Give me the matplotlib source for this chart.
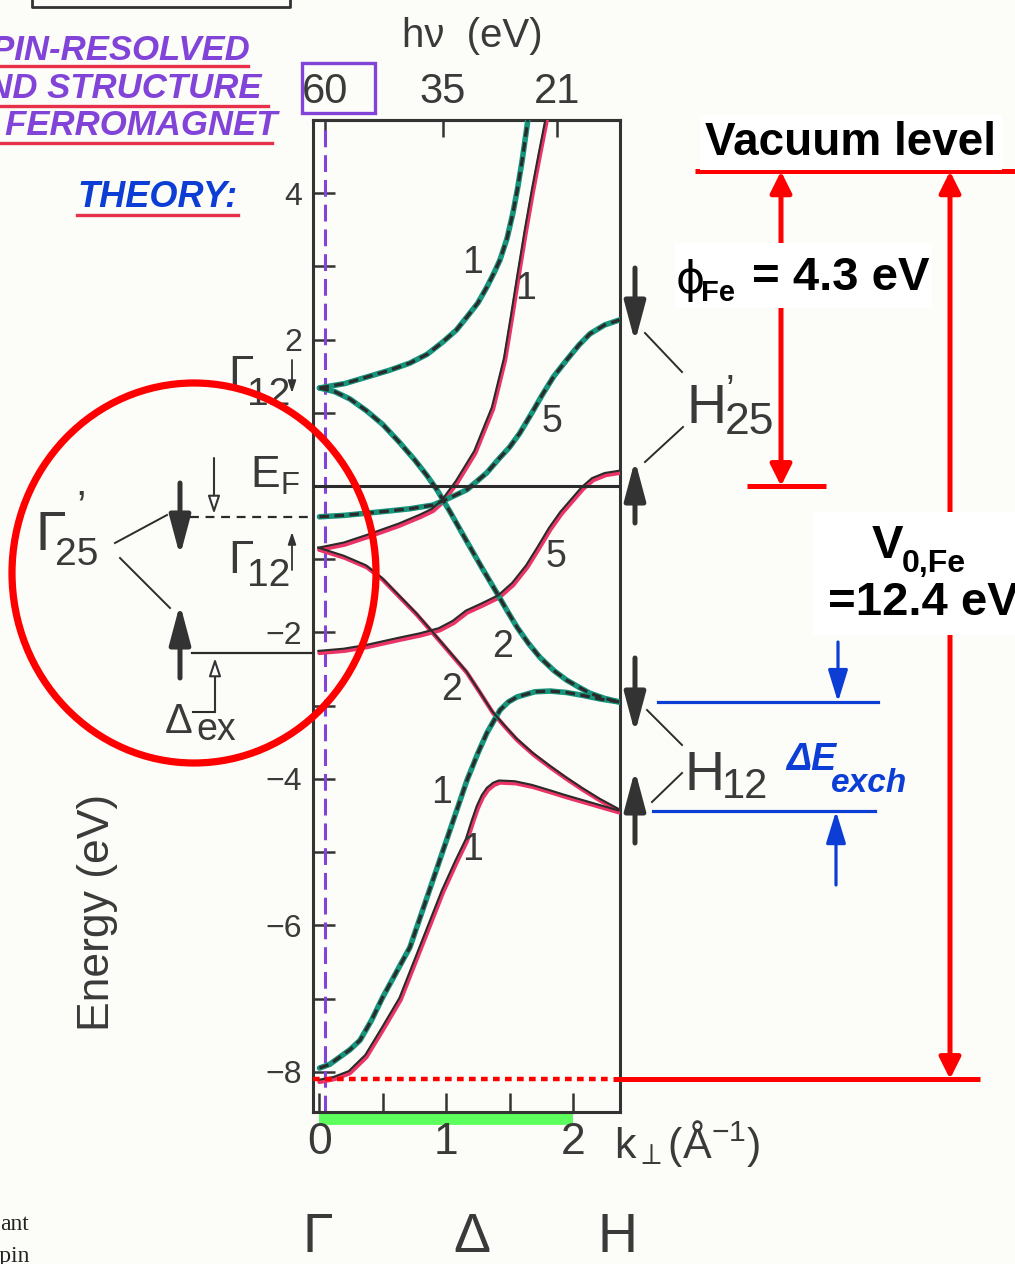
import matplotlib
matplotlib.use("Agg")
import matplotlib.pyplot as plt
from matplotlib import transforms as mtransforms
from matplotlib.patches import Ellipse, Rectangle

plt.rcParams["font.family"] = ["Liberation Sans", "DejaVu Sans"]
plt.rcParams["mathtext.fontset"] = "custom"
plt.rcParams["mathtext.rm"] = "Liberation Sans"
plt.rcParams["mathtext.it"] = "Liberation Sans:italic"
plt.rcParams["mathtext.bf"] = "Liberation Sans:bold"

# ---------------- bcc Fe bands along Γ–Δ–H (k in 1/Å, E - E_F in eV) ----------------
# minority spin (↓)
dn_1a_k = [0, 0.20, 0.375, 0.55, 0.714, 0.85, 0.975, 1.08, 1.164, 1.25, 1.322, 1.38,
           1.425, 1.48, 1.527, 1.565, 1.60, 1.645]
dn_1a_E = [1.34, 1.40, 1.49, 1.58, 1.68, 1.80, 1.97, 2.13, 2.31, 2.50, 2.72, 2.92,
           3.09, 3.38, 3.73, 4.08, 4.45, 5.0]
dn_2_k = [0, 0.12, 0.24, 0.37, 0.50, 0.635, 0.75, 0.85, 0.927, 1.03, 1.164, 1.28, 1.40,
          1.48, 1.56, 1.65, 1.74, 1.85, 1.95, 2.05, 2.135, 2.25, 2.37]
dn_2_E = [1.34, 1.29, 1.19, 1.03, 0.84, 0.59, 0.36, 0.14, -0.05, -0.35, -0.76, -1.11, -1.46,
          -1.70, -1.93, -2.15, -2.34, -2.52, -2.65, -2.75, -2.83, -2.90, -2.95]
dn_5_k = [0, 0.2, 0.375, 0.55, 0.714, 0.896, 1.03, 1.164, 1.32, 1.42, 1.50, 1.58, 1.67,
          1.76, 1.85, 1.95, 2.05, 2.135, 2.25, 2.37]
dn_5_E = [-0.42, -0.40, -0.37, -0.34, -0.31, -0.26, -0.16, -0.05, 0.18, 0.38, 0.53, 0.72, 0.98,
          1.25, 1.50, 1.72, 1.93, 2.08, 2.20, 2.27]
dn_1b_k = [0, 0.08, 0.16, 0.24, 0.32, 0.41, 0.50, 0.714, 0.896, 1.03, 1.164, 1.25, 1.322, 1.425,
           1.49, 1.56, 1.70, 1.82, 1.95, 2.08, 2.22, 2.37]
dn_1b_E = [-7.95, -7.90, -7.80, -7.70, -7.57, -7.30, -6.98, -6.30, -5.38, -4.70, -4.02, -3.65,
           -3.37, -3.06, -2.95, -2.88, -2.81, -2.80, -2.82, -2.86, -2.91, -2.95]

# majority spin (↑)
up_1a_k = [0, 0.2, 0.375, 0.635, 0.80, 0.896, 0.975, 1.085, 1.23, 1.37, 1.465, 1.52, 1.575,
           1.63, 1.685, 1.74, 1.80]
up_1a_E = [-0.87, -0.80, -0.70, -0.54, -0.42, -0.34, -0.22, 0.04, 0.45, 1.05, 1.72, 2.30, 2.90,
           3.48, 4.02, 4.52, 5.05]
up_2_k = [0, 0.2, 0.375, 0.50, 0.635, 0.77, 0.896, 1.03, 1.164, 1.27, 1.37, 1.47, 1.56, 1.69,
          1.82, 1.95, 2.08, 2.22, 2.37]
up_2_E = [-0.87, -0.98, -1.11, -1.28, -1.52, -1.76, -2.01, -2.28, -2.55, -2.83, -3.10, -3.30,
          -3.47, -3.67, -3.84, -4.00, -4.15, -4.30, -4.44]
up_5_k = [0, 0.2, 0.375, 0.635, 0.80, 0.95, 1.06, 1.164, 1.29, 1.42, 1.53, 1.64, 1.73, 1.82,
          1.91, 2.0, 2.08, 2.16, 2.26, 2.37]
up_5_E = [-2.28, -2.25, -2.20, -2.10, -2.04, -1.97, -1.87, -1.73, -1.63, -1.52, -1.35, -1.11,
          -0.86, -0.60, -0.38, -0.20, -0.04, 0.08, 0.15, 0.18]
up_1b_k = [0, 0.12, 0.24, 0.37, 0.50, 0.64, 0.77, 0.975, 1.08, 1.164, 1.21, 1.25, 1.29, 1.33,
           1.38, 1.425, 1.55, 1.685, 1.82, 1.95, 2.15, 2.37]
up_1b_E = [-8.14, -8.10, -8.02, -7.80, -7.43, -7.02, -6.45, -5.55, -5.15, -4.85, -4.60, -4.40,
           -4.25, -4.15, -4.08, -4.05, -4.06, -4.11, -4.18, -4.25, -4.35, -4.46]

# axes ticks
k_ticks = [0, 1, 2]
k_tick_labels = ["0", "1", "2"]
k_minor_ticks = [0.5, 1.5]
energy_ticks = list(range(-8, 5))
energy_tick_labels = ["\u22128", "", "\u22126", "", "\u22124", "", "\u22122", "", "", "", "2", "", "4"]
hv_k = [0.043, 0.975, 1.874]
hv_labels = ["60", "35", "21"]

# characteristic energies
PHI_FE = 4.3     # work function
V0_FE = 12.4     # inner potential, vacuum level to band bottom

# colours
TEAL = "#17947c"
PINK = "#ea3466"
DARK = "#2b2b2b"
GRAY = "#3a3a3a"
PURPLE = "#8244d8"
PEN_RED = "#e8304a"
RED = "#ff0000"
BLUE = "#0c3ed6"

fig = plt.figure(figsize=(10.15, 12.64), dpi=100, facecolor="#fcfcf8")
ax = fig.add_axes([313 / 1015, 152 / 1264, 307 / 1015, 992 / 1264])
ax.set_facecolor("none")
ax.set_xlim(-0.051, 2.372)
ax.set_ylim(-8.55, 5.0)
for s in ax.spines.values():
    s.set_linewidth(2.2)
    s.set_color("#333333")

ov = fig.add_axes([0, 0, 1, 1], zorder=5)
ov.set_xlim(0, 1015)
ov.set_ylim(1264, 0)
ov.axis("off")
bl = mtransforms.blended_transform_factory(ov.transData, ax.transData)

# ---------------- bands ----------------
up_shift = mtransforms.offset_copy(ax.transData, fig=fig, x=-0.8, y=1.5, units="points")


def minority(k, E):
    ax.plot(k, E, color=TEAL, lw=4.0, solid_capstyle="round", solid_joinstyle="round", zorder=3)
    ax.plot(k, E, color=DARK, lw=2.3, linestyle=(0, (3.0, 1.7)), zorder=4)


def majority(k, E):
    ax.plot(k, E, color=PINK, lw=3.1, solid_capstyle="round", solid_joinstyle="round", zorder=3)
    ax.plot(k, E, color=DARK, lw=1.5, transform=up_shift, solid_joinstyle="round", zorder=4)


majority(up_1a_k, up_1a_E)
majority(up_2_k, up_2_E)
majority(up_5_k, up_5_E)
majority(up_1b_k, up_1b_E)
minority(dn_1a_k, dn_1a_E)
minority(dn_2_k, dn_2_E)
minority(dn_5_k, dn_5_E)
minority(dn_1b_k, dn_1b_E)

# Fermi level and 60 eV photon line
ax.axhline(0, color=DARK, lw=2.2, zorder=5)
ax.axvline(hv_k[0], color=PURPLE, lw=2.2, linestyle=(0, (5.5, 2.6)), zorder=2)

# ticks
ax.set_yticks(energy_ticks)
ax.set_yticklabels(energy_tick_labels)
ax.set_xticks(k_ticks)
ax.set_xticklabels(k_tick_labels)
ax.set_xticks(k_minor_ticks, minor=True)
ax.tick_params(axis="y", direction="in", length=16, width=1.8, labelsize=23, pad=8,
               colors="#333333", labelcolor=GRAY)
ax.tick_params(axis="x", which="both", direction="in", length=14, width=1.8, labelsize=32,
               pad=7, colors="#333333", labelcolor=GRAY)
sec = ax.secondary_xaxis("top")
sec.set_xticks(hv_k)
sec.set_xticklabels(hv_labels)
sec.tick_params(direction="in", length=12, width=1.8, labelsize=30, pad=6,
                colors="#333333", labelcolor=GRAY)
sec.spines["top"].set_linewidth(2.2)
sec.spines["top"].set_color("#333333")

# k-range bar under the axis
ax.plot([k_ticks[0], k_ticks[-1]], [-0.007, -0.007], transform=ax.get_xaxis_transform(),
        color="#5cff5c", lw=8.5, solid_capstyle="butt", clip_on=False, zorder=1)

# band index labels
for txt, x, y in [("1", 473, 263), ("1", 526, 289), ("5", 552, 422), ("5", 556, 557),
                  ("2", 503, 647), ("2", 452, 690), ("1", 442, 793), ("1", 473, 850)]:
    ov.text(x, y, txt, ha="center", va="center", fontsize=27, color=GRAY)

# axis titles
ov.text(472, 47, "h\u03bd  (eV)", ha="center", va="baseline", fontsize=29, color=GRAY)
ov.add_patch(Rectangle((302, 63), 73, 50, fill=False, ec=PURPLE, lw=2.4))
ov.text(614, 1158, r"k$_{\perp}$(Å$^{\mathrm{-1}}$)", ha="left", va="baseline",
        fontsize=31, color=GRAY)
ov.text(98, 912, "Energy (eV)", rotation=90, ha="center", va="center", fontsize=32, color=GRAY)
ov.text(300, 488, r"E$_{\mathrm{F}}$", ha="right", va="baseline", fontsize=32, color=GRAY)
for txt, x in [("\u0393", 318), ("\u0394", 472), ("H", 618)]:
    ov.text(x, 1252, txt, ha="center", va="baseline", fontsize=40, color=GRAY)

# ---------------- Γ-point annotations ----------------
ov.plot([190, 313], [dn_5_E[0]] * 2, transform=bl, color=DARK, lw=1.6,
        linestyle=(0, (4, 3)), clip_on=False)
ov.plot([192, 313], [up_5_E[0]] * 2, transform=bl, color=DARK, lw=1.6, clip_on=False)
ov.text(36, 550, "\u0393", fontsize=40, color=GRAY, ha="left", va="baseline")
ov.text(76, 520, "\u2019", fontsize=30, color=GRAY, ha="left", va="baseline")
ov.text(55, 565, "25", fontsize=28, color=GRAY, ha="left", va="baseline")
ov.plot([115, 167], [543, 515], color=DARK, lw=1.4)
ov.plot([120, 170], [558, 608], color=DARK, lw=1.4)
big = dict(arrowstyle="-|>,head_length=1.2,head_width=0.32", lw=3.6, color="#333333",
           mutation_scale=20, shrinkA=0, shrinkB=0)
ov.annotate("", xy=(180, 556), xytext=(180, 483), arrowprops=big)
ov.annotate("", xy=(180, 604), xytext=(180, 678), arrowprops=big)
thin = dict(arrowstyle="-|>,head_length=0.9,head_width=0.3", lw=1.5, ec="#333333",
            fc="white", mutation_scale=12, shrinkA=0, shrinkB=0)
ov.annotate("", xy=(214, 514), xytext=(214, 458), arrowprops=thin)
ov.annotate("", xy=(215, 658), xytext=(215, 712), arrowprops=thin)
ov.plot([193, 215], [712, 712], color=DARK, lw=1.5)
ov.text(165, 733, "\u0394", fontsize=30, color=GRAY, ha="left", va="baseline")
ov.text(196, 740, "ex", fontsize=27, color=GRAY, ha="left", va="baseline")
# Γ12 labels
ov.text(228, 388, "\u0393", fontsize=33, color=GRAY, ha="left", va="baseline")
ov.text(247, 405, "12", fontsize=28, color=GRAY, ha="left", va="baseline")
ov.annotate("", xy=(292, 393), xytext=(292, 360),
            arrowprops=dict(arrowstyle="-|>,head_length=0.6,head_width=0.2", lw=1.3,
                            color="#333333", mutation_scale=12, shrinkA=0, shrinkB=0))
ov.text(228, 573, "\u0393", fontsize=33, color=GRAY, ha="left", va="baseline")
ov.text(247, 586, "12", fontsize=28, color=GRAY, ha="left", va="baseline")
ov.annotate("", xy=(292, 532), xytext=(292, 570),
            arrowprops=dict(arrowstyle="-|>,head_length=0.6,head_width=0.2", lw=1.3,
                            color="#333333", mutation_scale=12, shrinkA=0, shrinkB=0))
ov.add_patch(Ellipse((194, 573), 364, 380, fill=False, ec=RED, lw=5.2, zorder=10))

# ---------------- H-point annotations ----------------
ov.annotate("", xy=(635, 342), xytext=(635, 268), arrowprops=big)
ov.annotate("", xy=(635, 460), xytext=(635, 523), arrowprops=big)
ov.plot([645, 682], [333, 372], color=DARK, lw=1.4)
ov.plot([645, 683], [462, 427], color=DARK, lw=1.4)
ov.text(687, 423, "H", fontsize=40, color=GRAY, ha="left", va="baseline")
ov.text(726, 402, "\u2019", fontsize=28, color=GRAY, ha="left", va="baseline")
ov.text(725, 434, "25", fontsize=32, color=GRAY, ha="left", va="baseline")
ov.annotate("", xy=(635, 733), xytext=(635, 658), arrowprops=big)
ov.annotate("", xy=(635, 770), xytext=(635, 843), arrowprops=big)
ov.plot([647, 682], [710, 745], color=DARK, lw=1.4)
ov.plot([652, 682], [802, 773], color=DARK, lw=1.4)
ov.text(685, 790, "H", fontsize=40, color=GRAY, ha="left", va="baseline")
ov.text(722, 798, "12", fontsize=30, color=GRAY, ha="left", va="baseline")

# exchange splitting at H12
H12_dn = dn_2_E[-1]
H12_up = up_2_E[-1]
ov.plot([658, 878], [H12_dn] * 2, transform=bl, color=BLUE, lw=2.3, clip_on=False)
ov.plot([653, 875], [H12_up] * 2, transform=bl, color=BLUE, lw=2.3, clip_on=False)
blue_arrow = dict(arrowstyle="-|>,head_length=1.3,head_width=0.4", lw=2.3, color=BLUE,
                  mutation_scale=15, shrinkA=0, shrinkB=0)
ov.annotate("", xy=(838, H12_dn), xycoords=bl, xytext=(838, 642), textcoords="data",
            arrowprops=blue_arrow)
ov.annotate("", xy=(836, H12_up), xycoords=bl, xytext=(836, 885), textcoords="data",
            arrowprops=blue_arrow)
ov.text(786, 770, "\u0394E", fontsize=27, color=BLUE, fontweight="bold", fontstyle="italic",
        ha="left", va="baseline")
ov.text(831, 792, "exch", fontsize=24, color=BLUE, fontweight="bold", fontstyle="italic",
        ha="left", va="baseline")

# ---------------- vacuum level, work function, inner potential ----------------
E_vac = PHI_FE
E_bottom = PHI_FE - V0_FE
ov.plot([695, 1015], [E_vac] * 2, transform=bl, color=RED, lw=3.6, solid_capstyle="butt",
        clip_on=False)
vac_tr = mtransforms.offset_copy(bl, fig=fig, x=0, y=12, units="points")
ov.text(851, E_vac, "Vacuum level", transform=vac_tr, ha="center", va="baseline", fontsize=33,
        fontweight="bold", color="black",
        bbox=dict(boxstyle="square,pad=0.12", fc="white", ec="none"))
red_arrow = dict(arrowstyle="<|-|>,head_length=0.86,head_width=0.43", lw=3.6, color=RED,
                 mutation_scale=15, shrinkA=0, shrinkB=0)
ov.annotate("", xy=(781, E_vac), xycoords=bl, xytext=(781, 0.0), textcoords=bl,
            arrowprops=red_arrow)
ov.plot([747, 826], [0.0, 0.0], transform=bl, color=RED, lw=3.6, solid_capstyle="butt",
        clip_on=False)
ov.annotate("", xy=(950, E_vac), xycoords=bl, xytext=(950, E_bottom), textcoords=bl,
            arrowprops=red_arrow)
ov.plot([613, 980], [E_bottom] * 2, transform=bl, color=RED, lw=3.6, solid_capstyle="butt",
        clip_on=False)
ov.plot([313, 613], [E_bottom] * 2, transform=bl, color=RED, lw=3.2,
        linestyle=(0, (1.5, 1.2)), clip_on=False)

ov.add_patch(Rectangle((675, 243), 257, 65, fc="white", ec="none", zorder=6))
ov.text(676, 293, "\u03d5", family=["DejaVu Sans"], fontsize=32,
        color="black", ha="left", va="baseline", zorder=7)
ov.text(701, 301, "Fe", fontsize=21, fontweight="bold", color="black", ha="left",
        va="baseline", zorder=7)
ov.text(752, 290, f"= {PHI_FE} eV", fontsize=34, fontweight="bold", color="black",
        ha="left", va="baseline", zorder=7)

ov.add_patch(Rectangle((813, 512), 202, 123, fc="white", ec="none", zorder=6))
ov.text(872, 558, "V", fontsize=34, fontweight="bold", color="black", ha="left",
        va="baseline", zorder=7)
ov.text(902, 572, "0,Fe", fontsize=23, fontweight="bold", color="black", ha="left",
        va="baseline", zorder=7)
ov.text(828, 615, f"={V0_FE} eV", fontsize=34, fontweight="bold", color="black",
        ha="left", va="baseline", zorder=7)

# ---------------- handwritten headings ----------------
head = dict(fontsize=25, fontweight="bold", fontstyle="italic", color=PURPLE,
            ha="right", va="baseline")
ov.text(250, 60, "SPIN-RESOLVED", **head)
ov.text(262, 98, "BAND STRUCTURE", **head)
ov.text(277, 135, "OF A FERROMAGNET", **head)
ov.plot([0, 248], [66, 66], color=PEN_RED, lw=2.4)
ov.plot([0, 268], [106, 106], color=PEN_RED, lw=2.4)
ov.plot([0, 272], [143, 143], color=PEN_RED, lw=2.4)
ov.text(77, 207, "THEORY:", fontsize=26, fontweight="bold", fontstyle="italic", color=BLUE,
        ha="left", va="baseline")
ov.plot([77, 238], [215, 215], color=PEN_RED, lw=2.4)
ov.plot([32, 32, 290, 290], [0, 7, 7, 0], color="#333333", lw=2.0)

# fragments of the neighbouring caption text
ov.text(29, 1230, "ant", family=["Liberation Serif"], fontsize=17, color="#222222",
        ha="right", va="baseline")
ov.text(29, 1262, "spin", family=["Liberation Serif"], fontsize=17, color="#222222",
        ha="right", va="baseline")

fig.savefig("out.png", dpi=100, facecolor=fig.get_facecolor())
